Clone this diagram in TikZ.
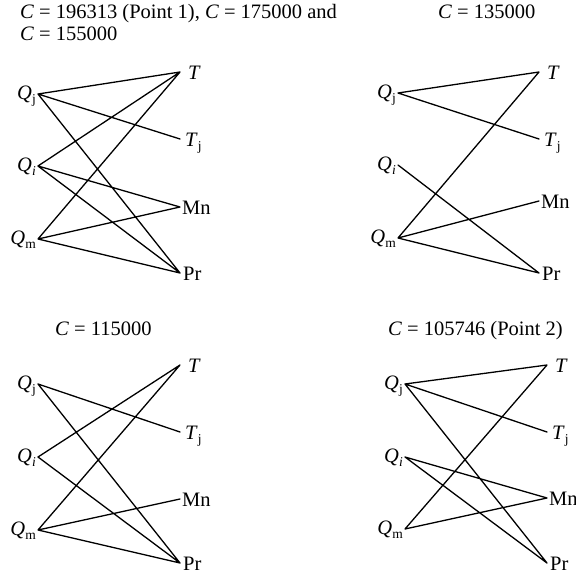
\documentclass[tikz,border=0pt]{standalone}
\usepackage{fontspec}
\setmainfont{Liberation Serif}
\newcommand\lowsub[1]{\raisebox{-4.5pt}{\fontsize{13.5}{13.5}\selectfont #1}}
\tikzset{
  edge/.style={line width=1.3pt, line cap=round},
  lt/.style={anchor=base east, inner sep=0pt, yshift=-5pt, xshift=-2pt},
  rt/.style={anchor=base west, inner sep=0pt, yshift=-7pt, xshift=3pt},
  ttl/.style={anchor=base west, inner sep=0pt},
}
\begin{document}
\begin{tikzpicture}[x=1pt,y=-1pt,font=\fontsize{20.5}{24}\selectfont]
\useasboundingbox (0,0) rectangle (576,570);
\clip (0,0) rectangle (576,570);
% ---------- titles
\node[ttl] (t1a) at (20,19) {\textit{C} = 196313 (Point 1), \textit{C} = 175000 and};
\node[ttl] (t1b) at (20,40) {\textit{C} = 155000};
\node[ttl] (t2) at (438,19) {\textit{C} = 135000};
\node[ttl] (t3) at (55,335) {\textit{C} = 115000};
\node[ttl] (t4) at (388,335) {\textit{C} = 105746 (Point 2)};
% ---------- panel 1
\coordinate (aQj) at (38,94); \coordinate (aQi) at (38,166); \coordinate (aQm) at (38,239);
\coordinate (aT) at (180,72); \coordinate (aTj) at (180,139); \coordinate (aMn) at (180,207); \coordinate (aPr) at (180,273);
\node[lt] (laQj) at (aQj) {\textit{Q}\lowsub{j}};
\node[lt] (laQi) at (aQi) {\textit{Q}\lowsub{\textit{i}}};
\node[lt] (laQm) at (aQm) {\textit{Q}\lowsub{m}};
\node[rt,xshift=5pt] (laT) at (aT) {\textit{T}};
\node[rt,xshift=2pt] (laTj) at (aTj) {\textit{T}\lowsub{j}};
\node[rt,xshift=-1pt] (laMn) at (aMn) {Mn};
\node[rt,xshift=0pt] (laPr) at (aPr) {Pr};
\draw[edge] (aQj) -- (aT) (aQj) -- (aTj) (aQj) -- (aPr)
            (aQi) -- (aT) (aQi) -- (aMn) (aQi) -- (aPr)
            (aQm) -- (aT) (aQm) -- (aMn) (aQm) -- (aPr);
% ---------- panel 2
\coordinate (bQj) at (398,93); \coordinate (bQi) at (398,165); \coordinate (bQm) at (398,238);
\coordinate (bT) at (539,72); \coordinate (bTj) at (539,139); \coordinate (bMn) at (539,201); \coordinate (bPr) at (539,273);
\node[lt] (lbQj) at (bQj) {\textit{Q}\lowsub{j}};
\node[lt] (lbQi) at (bQi) {\textit{Q}\lowsub{\textit{i}}};
\node[lt] (lbQm) at (bQm) {\textit{Q}\lowsub{m}};
\node[rt,xshift=5pt] (lbT) at (bT) {\textit{T}};
\node[rt,xshift=2pt] (lbTj) at (bTj) {\textit{T}\lowsub{j}};
\node[rt,xshift=-1pt] (lbMn) at (bMn) {Mn};
\node[rt,xshift=0pt] (lbPr) at (bPr) {Pr};
\draw[edge] (bQj) -- (bT) (bQj) -- (bTj)
            (bQi) -- (bPr)
            (bQm) -- (bT) (bQm) -- (bMn) (bQm) -- (bPr);
% ---------- panel 3
\coordinate (cQj) at (38,384); \coordinate (cQi) at (38,457); \coordinate (cQm) at (38,530);
\coordinate (cT) at (180,365); \coordinate (cTj) at (180,432); \coordinate (cMn) at (180,499); \coordinate (cPr) at (180,563);
\node[lt] (lcQj) at (cQj) {\textit{Q}\lowsub{j}};
\node[lt] (lcQi) at (cQi) {\textit{Q}\lowsub{\textit{i}}};
\node[lt] (lcQm) at (cQm) {\textit{Q}\lowsub{m}};
\node[rt,xshift=5pt] (lcT) at (cT) {\textit{T}};
\node[rt,xshift=2pt] (lcTj) at (cTj) {\textit{T}\lowsub{j}};
\node[rt,xshift=-1pt] (lcMn) at (cMn) {Mn};
\node[rt,xshift=0pt] (lcPr) at (cPr) {Pr};
\draw[edge] (cQj) -- (cTj) (cQj) -- (cPr)
            (cQi) -- (cT) (cQi) -- (cPr)
            (cQm) -- (cT) (cQm) -- (cMn) (cQm) -- (cPr);
% ---------- panel 4
\coordinate (dQj) at (405,384); \coordinate (dQi) at (405,457); \coordinate (dQm) at (405,529);
\coordinate (dT) at (547,365); \coordinate (dTj) at (547,432); \coordinate (dMn) at (547,498); \coordinate (dPr) at (547,563);
\node[lt] (ldQj) at (dQj) {\textit{Q}\lowsub{j}};
\node[lt] (ldQi) at (dQi) {\textit{Q}\lowsub{\textit{i}}};
\node[lt] (ldQm) at (dQm) {\textit{Q}\lowsub{m}};
\node[rt,xshift=5pt] (ldT) at (dT) {\textit{T}};
\node[rt,xshift=2pt] (ldTj) at (dTj) {\textit{T}\lowsub{j}};
\node[rt,xshift=-1pt] (ldMn) at (dMn) {Mn};
\node[rt,xshift=0pt] (ldPr) at (dPr) {Pr};
\draw[edge] (dQj) -- (dT) (dQj) -- (dTj) (dQj) -- (dPr)
            (dQi) -- (dMn) (dQi) -- (dPr)
            (dQm) -- (dT) (dQm) -- (dMn);
\end{tikzpicture}
\end{document}
